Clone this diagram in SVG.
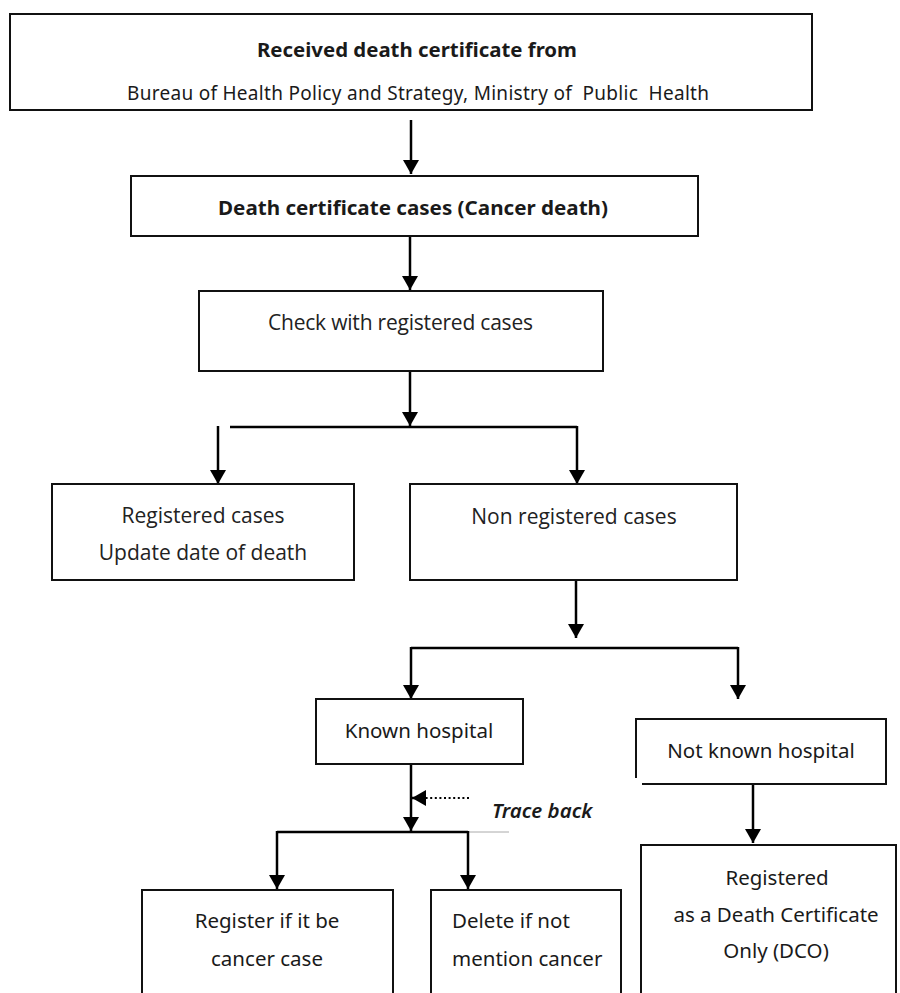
<svg xmlns="http://www.w3.org/2000/svg" width="900" height="993" viewBox="0 0 900 993">
<defs>
<marker id="ah" markerUnits="userSpaceOnUse" markerWidth="16" markerHeight="16" refX="14" refY="8" orient="auto" viewBox="0 0 16 16">
<path d="M0,0 L14,8 L0,16 z" fill="#000"/>
</marker>
<style>
.box{fill:#fff;stroke:#111;stroke-width:2}
.con{fill:none;stroke:#000;stroke-width:2.5}
.arr{marker-end:url(#ah)}
.s{font-family:"Noto Sans","DejaVu Sans",sans-serif;fill:#1a1a1a;font-size:19px}
.b{font-weight:bold}
.t{font-family:"Noto Sans","DejaVu Sans",sans-serif;fill:#1a1a1a;font-size:20.5px}
.o{font-family:"Open Sans","Noto Sans",sans-serif;fill:#222;font-size:21px}
</style>
</defs>
<rect width="900" height="993" fill="#fff"/>
<g id="connectors">
<line class="con arr" x1="411" y1="120" x2="411" y2="174"/>
<line class="con arr" x1="410" y1="236" x2="410" y2="290"/>
<line class="con arr" x1="410" y1="371" x2="410" y2="426"/>
<line class="con" x1="230" y1="427" x2="577" y2="427"/>
<line class="con arr" x1="218" y1="426" x2="218" y2="484"/>
<line class="con arr" x1="577" y1="426" x2="577" y2="484"/>
<line class="con arr" x1="576" y1="580" x2="576" y2="638"/>
<line class="con" x1="411" y1="648" x2="738" y2="648"/>
<line class="con arr" x1="411" y1="647" x2="411" y2="699"/>
<line class="con arr" x1="738" y1="647" x2="738" y2="699"/>
<line class="con arr" x1="411" y1="764" x2="411" y2="831"/>
<line x1="469" y1="798" x2="425" y2="798" stroke="#000" stroke-width="2" stroke-dasharray="2,2.6"/>
<line class="con arr" x1="426" y1="798" x2="412" y2="798"/>
<line class="con" x1="277" y1="832" x2="468" y2="832"/>
<line x1="468" y1="832" x2="509" y2="832" stroke="#aaa" stroke-width="1"/>
<line class="con arr" x1="277" y1="831" x2="277" y2="889"/>
<line class="con arr" x1="468" y1="831" x2="468" y2="889"/>
<line class="con arr" x1="753" y1="784" x2="753" y2="843"/>
</g>
<g id="n1">
<rect class="box" x="10" y="14" width="802" height="96"/>
<text class="s b" x="257" y="57" textLength="320" lengthAdjust="spacingAndGlyphs">Received death certificate from</text>
<text class="s" x="127" y="100" textLength="582" xml:space="preserve">Bureau of Health Policy and Strategy, Ministry of  Public  Health</text>
</g>
<g id="n2">
<rect class="box" x="131" y="176" width="567" height="60"/>
<text class="s b" x="218" y="215" textLength="390" lengthAdjust="spacingAndGlyphs">Death certificate cases (Cancer death)</text>
</g>
<g id="n3">
<rect class="box" x="199" y="291" width="404" height="80"/>
<text class="o" x="268" y="330" textLength="265">Check with registered cases</text>
</g>
<g id="n4">
<rect class="box" x="52" y="484" width="302" height="96"/>
<text class="o" x="203" y="523" text-anchor="middle">Registered cases</text>
<text class="o" x="203" y="560" text-anchor="middle">Update date of death</text>
</g>
<g id="n5">
<rect class="box" x="410" y="484" width="327" height="96"/>
<text class="o" x="574" y="524" text-anchor="middle">Non registered cases</text>
</g>
<g id="n6">
<rect class="box" x="316" y="699" width="207" height="65"/>
<text class="t" x="419" y="738" text-anchor="middle">Known hospital</text>
</g>
<g id="n7">
<path d="M636,778 L636,719 L886,719 L886,784 L642,784" fill="#fff" stroke="#111" stroke-width="2"/>
<text class="t" x="761" y="758" text-anchor="middle">Not known hospital</text>
</g>
<g id="n8">
<text class="t" x="492" y="818" font-style="italic" font-weight="600">Trace back</text>
</g>
<g id="n9">
<path d="M142,993 L142,890 L393,890 L393,993" fill="#fff" stroke="#111" stroke-width="2"/>
<text class="t" x="267" y="928" text-anchor="middle">Register if it be</text>
<text class="t" x="267" y="966" text-anchor="middle">cancer case</text>
</g>
<g id="n10">
<path d="M431,993 L431,890 L621,890 L621,993" fill="#fff" stroke="#111" stroke-width="2"/>
<text class="t" x="452" y="928">Delete if not</text>
<text class="t" x="452" y="966">mention cancer</text>
</g>
<g id="n11">
<path d="M641,993 L641,845 L896,845 L896,993" fill="#fff" stroke="#111" stroke-width="2"/>
<text class="t" x="777" y="885" text-anchor="middle">Registered</text>
<text class="t" x="776" y="922" text-anchor="middle">as a Death Certificate</text>
<text class="t" x="776" y="958" text-anchor="middle">Only (DCO)</text>
</g>
</svg>
